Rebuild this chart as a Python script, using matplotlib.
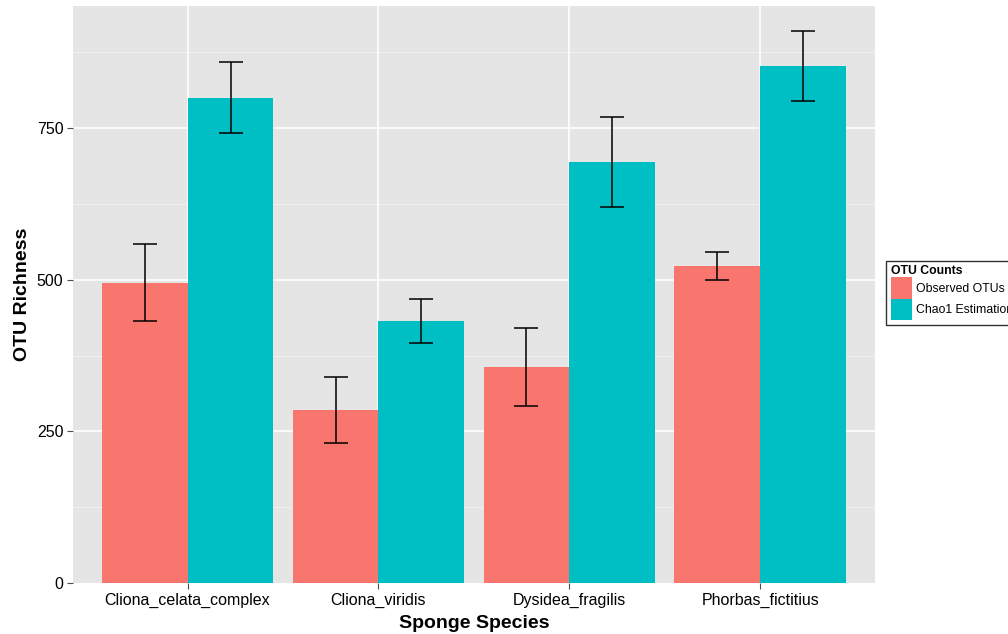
import matplotlib as mpl
mpl.use('Agg')

import numpy as np
import matplotlib.pyplot as plt
from matplotlib.patches import Patch

species = ['Cliona_celata_complex', 'Cliona_viridis', 'Dysidea_fragilis', 'Phorbas_fictitius']
observed = [495, 285, 356, 522]
observed_err = [63, 54, 64, 23]
chao1 = [800, 432, 694, 852]
chao1_err = [58, 36, 74, 58]

red = '#F8766D'
teal = '#00BFC4'

plt.rcParams['font.family'] = ['Liberation Sans', 'DejaVu Sans']


def main():
    fig = plt.figure(figsize=(10.08, 6.34), dpi=100)
    ax = fig.add_axes([0.0724, 0.0804, 0.7956, 0.9101])
    ax.set_facecolor('#E5E5E5')

    x = np.arange(1, len(species) + 1)
    w = 0.45

    # minor then major grid, drawn under the bars
    for v in [125, 375, 625, 875]:
        ax.axhline(v, color='#F2F2F2', lw=0.6, zorder=0)
    for v in [250, 500, 750]:
        ax.axhline(v, color='white', lw=1.2, zorder=0)
    for xi in x:
        ax.axvline(xi, color='white', lw=1.2, zorder=0)

    ax.bar(x - w / 2, observed, width=w, color=red, zorder=2)
    ax.bar(x + w / 2, chao1, width=w, color=teal, zorder=2)
    ax.errorbar(x - w / 2, observed, yerr=observed_err, fmt='none', ecolor='black',
                elinewidth=1.1, capsize=8.6, capthick=1.1, zorder=3)
    ax.errorbar(x + w / 2, chao1, yerr=chao1_err, fmt='none', ecolor='black',
                elinewidth=1.1, capsize=8.6, capthick=1.1, zorder=3)

    ax.set_xlim(0.4, 4.6)
    ax.set_ylim(0, 951)
    ax.set_xticks(x)
    ax.set_xticklabels(species)
    ax.set_yticks([0, 250, 500, 750])
    ax.tick_params(axis='both', length=4, color='#4D4D4D', labelsize=11.5,
                   labelcolor='black', pad=3)
    for s in ax.spines.values():
        s.set_visible(False)

    ax.set_xlabel('Sponge Species', fontsize=14, fontweight='bold', labelpad=5)
    ax.set_ylabel('OTU Richness', fontsize=14, fontweight='bold', labelpad=4)

    handles = [Patch(facecolor=red, edgecolor='none', label='Observed OTUs'),
               Patch(facecolor=teal, edgecolor='none', label='Chao1 Estimation')]
    leg = fig.legend(handles=handles, title='OTU Counts', loc='upper left',
                     bbox_to_anchor=(0.879, 0.589), fontsize=8.8,
                     title_fontproperties={'weight': 'bold', 'size': 8.8},
                     frameon=True, fancybox=False, edgecolor='black',
                     handlelength=1.75, handleheight=2.3, handletextpad=0.3,
                     labelspacing=0.0, borderpad=0.4, borderaxespad=0)
    leg._legend_box.align = 'left'
    leg.get_frame().set_linewidth(1.0)

    plt.savefig('out.png', dpi=100)


if __name__ == '__main__':
    main()
